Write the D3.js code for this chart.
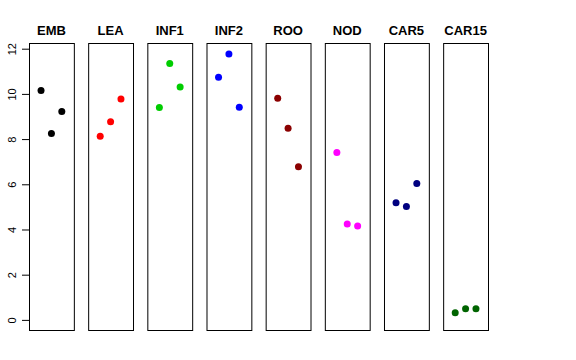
<!DOCTYPE html>
<html>
<head>
    <meta charset="utf-8">
    <script src="https://d3js.org/d3.v7.min.js"></script>
    <style>
        body { margin: 0; background: white; }
        .title { font-family: "Liberation Sans", Arial, sans-serif; font-size: 13px; font-weight: bold; }
        .axis text { font-family: "Liberation Sans", Arial, sans-serif; font-size: 11px; }
    </style>
</head>
<body>
<script>
    // data
    let groups = ["EMB", "LEA", "INF1", "INF2", "ROO", "NOD", "CAR5", "CAR15"];
    let colors = ["#000000", "#FF0000", "#00CD00", "#0000FF", "#8B0000", "#FF00FF", "#000080", "#006400"];
    let rep1 = [10.15, 8.13, 9.40, 10.74, 9.81, 7.41, 5.18, 0.32];
    let rep2 = [8.25, 8.77, 11.34, 11.77, 8.48, 4.24, 5.02, 0.49];
    let rep3 = [9.22, 9.77, 10.30, 9.41, 6.78, 4.15, 6.04, 0.49];
    let yTicks = [0, 2, 4, 6, 8, 10, 12];

    let width = 576, height = 360;
    let plotTop = 43.5, plotBottom = 330.5;

    let svg = d3.select("body").append("svg")
        .attr("width", width)
        .attr("height", height);

    let x_band = d3.scaleBand()
        .domain(groups)
        .range([29, 488])
        .paddingInner(0.242)
        .paddingOuter(0);

    let y_scale = d3.scaleLinear()
        .domain([-0.47, 12.23])
        .range([plotBottom, plotTop]);

    // x inside each panel: points at 1,2,3 (xlim 0..4 plus 4%)
    let x_in = d3.scaleLinear()
        .domain([-0.16, 4.16])
        .range([0, x_band.bandwidth()]);

    let y_axis = d3.axisLeft(y_scale)
        .tickValues(yTicks)
        .tickSize(7)
        .tickPadding(3);

    let ax = svg.append("g")
        .attr("class", "axis")
        .attr("transform", "translate(" + 29 + ",0)")
        .call(y_axis);
    ax.select(".domain").remove();
    ax.selectAll("line").attr("stroke", "black");
    ax.selectAll("text")
        .attr("text-anchor", "middle")
        .attr("dy", null)
        .attr("x", null)
        .attr("transform", "translate(-13,0) rotate(-90)")
        .attr("y", 0)
        .attr("fill", "black");

    groups.forEach(function (g, i) {
        let x0 = x_band(g);
        let panel = svg.append("g").attr("transform", "translate(" + x0 + ",0)");

        panel.append("rect")
            .attr("x", 0.5)
            .attr("y", plotTop)
            .attr("width", x_band.bandwidth())
            .attr("height", plotBottom - plotTop)
            .attr("fill", "none")
            .attr("stroke", "black")
            .attr("stroke-width", 1);

        panel.append("text")
            .attr("class", "title")
            .attr("x", x_band.bandwidth() / 2)
            .attr("y", 34.5)
            .attr("text-anchor", "middle")
            .text(g);

        let vals = [rep1[i], rep2[i], rep3[i]];
        panel.selectAll("circle")
            .data(vals)
            .join("circle")
            .attr("cx", (d, j) => x_in(j + 1))
            .attr("cy", d => y_scale(d))
            .attr("r", 3.5)
            .attr("fill", colors[i]);
    });
</script>
</body>
</html>
